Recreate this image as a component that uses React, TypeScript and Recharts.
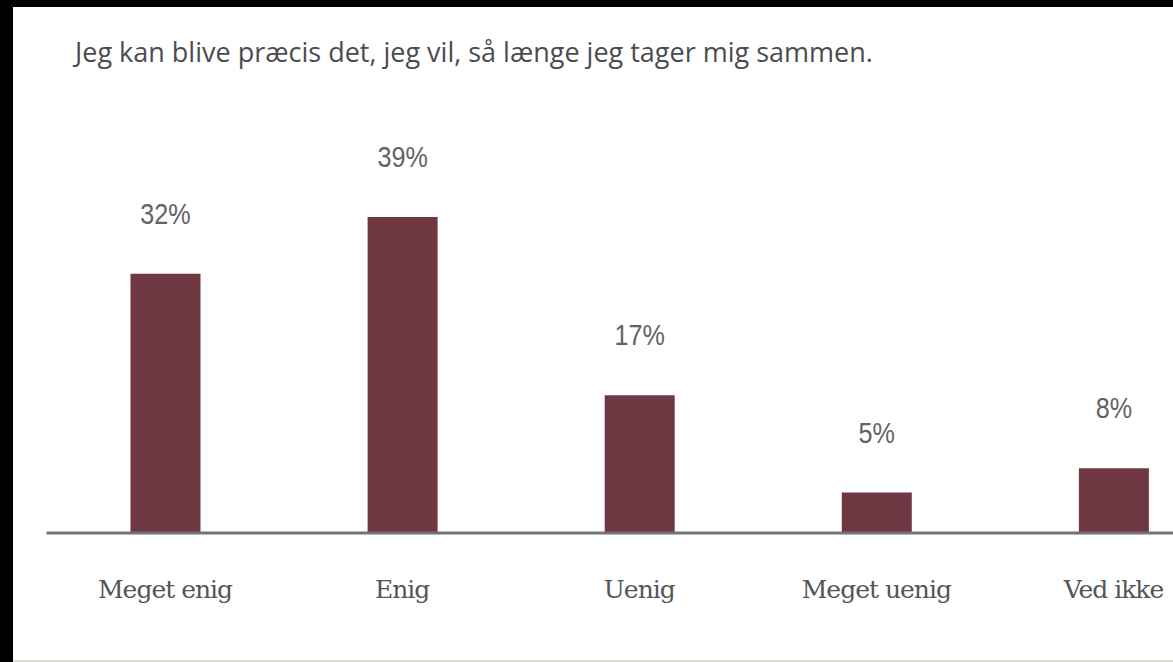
import { BarChart, Bar, XAxis, YAxis, LabelList } from 'recharts';

const categories = ['Meget enig', 'Enig', 'Uenig', 'Meget uenig', 'Ved ikke'];
const shares = [32, 39, 17, 5, 8];
const title = 'Jeg kan blive præcis det, jeg vil, så længe jeg tager mig sammen.';

const data = categories.map((name, i) => ({ name, value: shares[i] }));

const BAR_COLOR = '#6f3742';

// narrow look of the original percent labels: squeeze the text horizontally
const renderValueLabel = (props: any) => {
  const { x, y, width, value } = props;
  return (
    <text
      transform={`translate(${x + width / 2},${y - 50}) scale(0.84,1)`}
      textAnchor="middle"
      fill="#636363"
      style={{ fontFamily: '"Liberation Sans", sans-serif', fontSize: 30 }}
    >
      {`${value}%`}
    </text>
  );
};

const CategoryTick = (props: any) => {
  const { x, y, payload } = props;
  return (
    <text
      x={x}
      y={y + 65}
      textAnchor="middle"
      fill="#555555"
      style={{ fontFamily: '"DejaVu Serif", serif', fontSize: 25, letterSpacing: -1 }}
    >
      {payload.value}
    </text>
  );
};

export default function App() {
  return (
    <div
      style={{
        position: 'fixed',
        left: 0,
        top: 0,
        width: 1173,
        height: 662,
        background: '#000',
        overflow: 'hidden',
      }}
    >
      <div
        style={{
          position: 'absolute',
          left: 13,
          top: 7,
          width: 1160,
          height: 653,
          background: '#fff',
          borderBottom: '2px solid #dcdccf',
        }}
      />
      <svg width={1173} height={100} style={{ position: 'absolute', left: 0, top: 0 }}>
        <text
          x={75}
          y={62}
          fill="#4b4c50"
          style={{ fontFamily: '"Open Sans", sans-serif', fontSize: 27 }}
        >
          {title}
        </text>
      </svg>
      <div style={{ position: 'absolute', left: 0, top: 0 }}>
        <BarChart
          width={1240}
          height={662}
          data={data}
          margin={{ top: 128, right: 8, bottom: 0, left: 46.5 }}
          barCategoryGap={0}
        >
          <YAxis hide domain={[0, 50]} />
          <XAxis
            dataKey="name"
            height={129}
            tickLine={false}
            tickSize={0}
            tickMargin={0}
            stroke="#737373"
            strokeWidth={3}
            tick={<CategoryTick />}
            interval={0}
          />
          <Bar dataKey="value" fill={BAR_COLOR} barSize={70} isAnimationActive={false}>
            <LabelList dataKey="value" content={renderValueLabel} />
          </Bar>
        </BarChart>
      </div>
    </div>
  );
}
